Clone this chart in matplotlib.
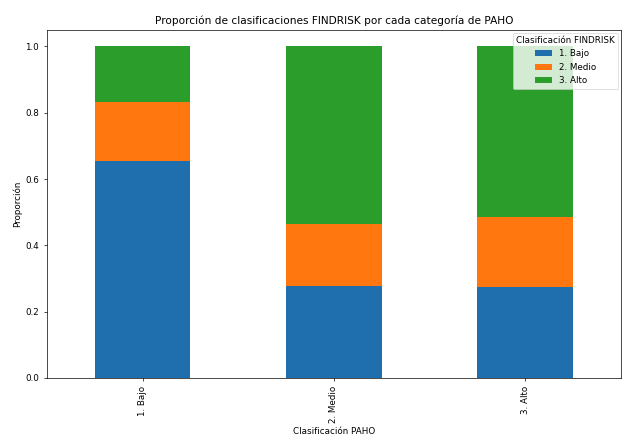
import matplotlib
matplotlib.use("Agg")
import matplotlib.pyplot as plt
import numpy as np

categories = ["1. Bajo", "2. Medio", "3. Alto"]
series_labels = ["1. Bajo", "2. Medio", "3. Alto"]
bajo = [0.656, 0.278, 0.274]
medio = [0.176, 0.185, 0.211]
alto = [0.168, 0.537, 0.515]
colors = ["#1f6fae", "#ff770e", "#2a9d2a"]

fig = plt.figure(figsize=(6.31, 4.40), dpi=100)
ax = fig.add_axes([0.0745, 0.141, 0.9095, 0.791])

x = np.arange(len(categories))
bottom = np.zeros(len(categories))
for vals, lab, c in zip([bajo, medio, alto], series_labels, colors):
    ax.bar(x, vals, 0.5, bottom=bottom, color=c, label=lab)
    bottom += np.array(vals)

ax.set_xlim(-0.5, 2.5)
ax.set_ylim(0, 1.05)
ax.set_xticks(x)
ax.set_xticklabels(categories, rotation=90, fontsize=6.3)
ax.tick_params(axis="y", labelsize=6.3)
ax.tick_params(length=2.2, width=0.5)
for s in ax.spines.values():
    s.set_linewidth(0.5)
ax.set_xlabel("Clasificación PAHO", fontsize=6.3, labelpad=2.5)
ax.set_ylabel("Proporción", fontsize=6.3, labelpad=2.5)
ax.set_title("Proporción de clasificaciones FINDRISK por cada categoría de PAHO", fontsize=7.6, pad=4)
leg = ax.legend(title="Clasificación FINDRISK", fontsize=6.3, title_fontsize=6.3,
                loc="upper right", borderaxespad=0.3)
leg.get_frame().set_linewidth(0.5)

fig.savefig("out.png", dpi=100)
